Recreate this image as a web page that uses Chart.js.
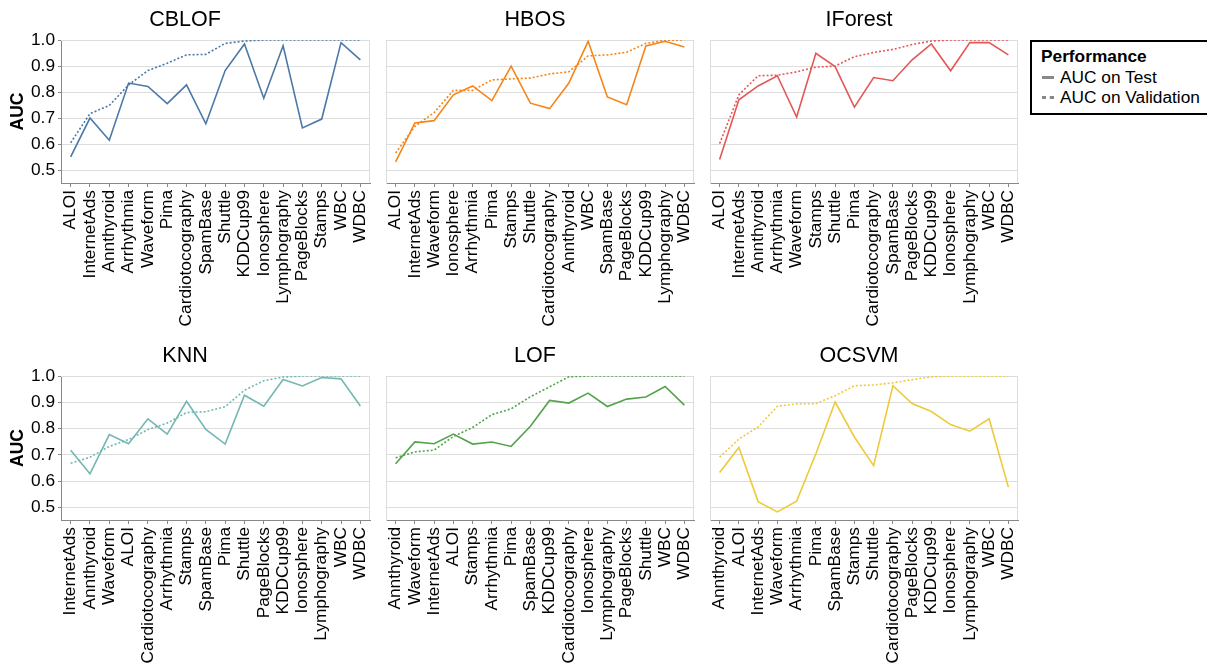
<!DOCTYPE html>
<html>
<head>
<meta charset="utf-8">
<script src="https://cdn.jsdelivr.net/npm/chart.js@4.4.1/dist/chart.umd.min.js"></script>
<style>
  html, body { margin: 0; padding: 0; background: #fff; }
  body { width: 1207px; height: 666px; position: relative; overflow: hidden; font-family: "Liberation Sans", Arial, sans-serif; }
  .panel { position: absolute; }
  #legend { position: absolute; left: 1030px; top: 40px; width: 190px; height: 71px; border: 2px solid #000; box-sizing: content-box; }
  #legend .t { position: absolute; left: 9px; top: 4px; font-weight: bold; font-size: 17.3px; color: #000; }
  #legend .row { position: absolute; left: 10px; font-size: 17.3px; color: #000; white-space: nowrap; }
  #legend .sym { display: inline-block; width: 12px; height: 0; vertical-align: middle; margin-right: 6px; position: relative; top: -1px; }
</style>
</head>
<body>
<div class="panel" style="left:0px;top:0px;width:372px;height:340px;"><canvas id="c0"></canvas></div>
<div class="panel" style="left:376px;top:0px;width:320px;height:340px;"><canvas id="c1"></canvas></div>
<div class="panel" style="left:700px;top:0px;width:320px;height:340px;"><canvas id="c2"></canvas></div>
<div class="panel" style="left:0px;top:336px;width:372px;height:330px;"><canvas id="c3"></canvas></div>
<div class="panel" style="left:376px;top:336px;width:320px;height:330px;"><canvas id="c4"></canvas></div>
<div class="panel" style="left:700px;top:336px;width:320px;height:330px;"><canvas id="c5"></canvas></div>
<div id="legend">
  <div class="t">Performance</div>
  <div class="row" style="top:25px;"><span class="sym" style="border-top:3px solid #888;"></span>AUC on Test</div>
  <div class="row" style="top:45px;"><span class="sym" style="border-top:3px dotted #888;"></span>AUC on Validation</div>
</div>
<script>
// ---------- DATA ----------
const yTicks = [0.5, 0.6, 0.7, 0.8, 0.9, 1.0];

const cblofCats = ["ALOI","InternetAds","Annthyroid","Arrhythmia","Waveform","Pima","Cardiotocography","SpamBase","Shuttle","KDDCup99","Ionosphere","Lymphography","PageBlocks","Stamps","WBC","WDBC"];
const cblofTest = [0.552,0.701,0.616,0.835,0.822,0.756,0.828,0.679,0.883,0.985,0.777,0.978,0.663,0.697,0.990,0.924];
const cblofVal  = [0.606,0.718,0.749,0.828,0.883,0.911,0.943,0.945,0.987,0.996,1.0,1.0,1.0,1.0,1.0,1.0];

const hbosCats = ["ALOI","InternetAds","Waveform","Ionosphere","Arrhythmia","Pima","Stamps","Shuttle","Cardiotocography","Annthyroid","WBC","SpamBase","PageBlocks","KDDCup99","Lymphography","WDBC"];
const hbosTest = [0.533,0.682,0.691,0.790,0.824,0.768,0.900,0.758,0.737,0.835,0.995,0.782,0.752,0.977,0.995,0.973];
const hbosVal  = [0.567,0.669,0.722,0.807,0.807,0.847,0.851,0.854,0.870,0.878,0.939,0.943,0.953,0.987,0.999,1.0];

const iforestCats = ["ALOI","InternetAds","Annthyroid","Arrhythmia","Waveform","Stamps","Shuttle","Pima","Cardiotocography","SpamBase","PageBlocks","KDDCup99","Ionosphere","Lymphography","WBC","WDBC"];
const iforestTest = [0.542,0.771,0.824,0.863,0.705,0.949,0.898,0.743,0.856,0.844,0.924,0.985,0.882,0.990,0.990,0.943];
const iforestVal  = [0.603,0.790,0.863,0.865,0.878,0.896,0.900,0.936,0.952,0.964,0.983,0.996,1.0,1.0,1.0,1.0];

const knnCats = ["InternetAds","Annthyroid","Waveform","ALOI","Cardiotocography","Arrhythmia","Stamps","SpamBase","Pima","Shuttle","PageBlocks","KDDCup99","Ionosphere","Lymphography","WBC","WDBC"];
const knnTest = [0.717,0.628,0.777,0.742,0.837,0.779,0.904,0.797,0.741,0.927,0.885,0.987,0.962,0.994,0.989,0.886];
const knnVal  = [0.668,0.691,0.732,0.758,0.796,0.821,0.861,0.864,0.883,0.946,0.982,0.996,1.0,1.0,1.0,1.0];

const lofCats = ["Annthyroid","Waveform","InternetAds","ALOI","Stamps","Arrhythmia","Pima","SpamBase","KDDCup99","Cardiotocography","Ionosphere","Lymphography","PageBlocks","Shuttle","WBC","WDBC"];
const lofTest = [0.666,0.749,0.742,0.779,0.741,0.749,0.732,0.809,0.907,0.897,0.935,0.884,0.912,0.920,0.960,0.889];
const lofVal  = [0.689,0.711,0.718,0.770,0.804,0.853,0.875,0.921,0.959,0.997,1.0,1.0,1.0,1.0,1.0,1.0];

const ocsvmCats = ["Annthyroid","ALOI","InternetAds","Waveform","Arrhythmia","Pima","SpamBase","Stamps","Shuttle","Cardiotocography","PageBlocks","KDDCup99","Ionosphere","Lymphography","WBC","WDBC"];
const ocsvmTest = [0.633,0.728,0.522,0.483,0.524,0.704,0.901,0.768,0.659,0.963,0.895,0.865,0.815,0.790,0.837,0.577];
const ocsvmVal  = [0.691,0.760,0.806,0.885,0.894,0.895,0.925,0.963,0.966,0.974,0.986,0.997,1.0,1.0,1.0,1.0];

// ---------- STYLE / LAYOUT ----------
const FONT = "'Liberation Sans', Arial, sans-serif";
const frame = {
  id: 'frame',
  beforeDatasetsDraw(chart) {
    const a = chart.chartArea, ctx = chart.ctx;
    ctx.save();
    ctx.strokeStyle = '#dddddd';
    ctx.lineWidth = 1;
    ctx.beginPath();
    ctx.moveTo(a.left, a.top + 0.5);
    ctx.lineTo(a.right - 0.5, a.top + 0.5);
    ctx.lineTo(a.right - 0.5, a.bottom);
    ctx.stroke();
    ctx.restore();
  }
};

function makeChart(id, title, cats, test, val, color, showY, xAxisHeight) {
  const yMin = 0.452;
  new Chart(document.getElementById(id), {
    type: 'line',
    data: {
      labels: cats,
      datasets: [
        { label: 'AUC on Test', data: test, borderColor: color, borderWidth: 1.6, pointRadius: 0, tension: 0, fill: false },
        { label: 'AUC on Validation', data: val, borderColor: color, borderWidth: 1.6, borderDash: [2, 2], pointRadius: 0, tension: 0, fill: false }
      ]
    },
    options: {
      responsive: true,
      maintainAspectRatio: false,
      animation: false,
      events: [],
      layout: { padding: { left: 0, right: 2, top: 0, bottom: 0 } },
      plugins: {
        legend: { display: false },
        tooltip: { enabled: false },
        title: {
          display: true, text: title, color: '#000',
          font: { family: FONT, size: 21.5, weight: 'normal', lineHeight: 1.2 },
          padding: { top: 7, bottom: 7.2 }
        }
      },
      scales: {
        x: {
          type: 'category',
          offset: true,
          grid: { display: true, drawOnChartArea: false, drawTicks: true, tickLength: 4, color: '#888', tickColor: '#888' },
          border: { display: true, color: '#888', width: 1 },
          ticks: {
            autoSkip: false, maxRotation: 90, minRotation: 90, padding: 3, color: '#000',
            font: { family: FONT, size: 17.3 }
          },
          afterFit(s) { s.height = xAxisHeight; s.paddingLeft = 0; s.paddingRight = 0; }
        },
        y: {
          type: 'linear',
          min: yMin, max: 1.0,
          afterBuildTicks(s) { s.ticks = yTicks.map(v => ({ value: v })); },
          grid: { color: '#dddddd', drawTicks: showY, tickLength: 3, tickColor: '#888' },
          border: { display: true, color: showY ? '#888' : '#dddddd', width: 1 },
          ticks: {
            display: showY, padding: 3, color: '#000',
            font: { family: FONT, size: 17.3 },
            callback: v => Number(v).toFixed(1)
          },
          title: {
            display: showY, text: 'AUC', color: '#000',
            font: { family: FONT, size: 17.5, weight: 'bold', lineHeight: 1.2 },
            padding: { top: 8, bottom: 0 }
          },
          afterFit(s) { s.width = showY ? 61 : 10; }
        }
      }
    },
    plugins: [frame]
  });
}

makeChart('c0', 'CBLOF', cblofCats, cblofTest, cblofVal, '#4c78a8', true, 157);
makeChart('c1', 'HBOS', hbosCats, hbosTest, hbosVal, '#f58518', false, 157);
makeChart('c2', 'IForest', iforestCats, iforestTest, iforestVal, '#e45756', false, 157);
makeChart('c3', 'KNN', knnCats, knnTest, knnVal, '#72b7b2', true, 146);
makeChart('c4', 'LOF', lofCats, lofTest, lofVal, '#54a24b', false, 146);
makeChart('c5', 'OCSVM', ocsvmCats, ocsvmTest, ocsvmVal, '#eeca3b', false, 146);
</script>
</body>
</html>
